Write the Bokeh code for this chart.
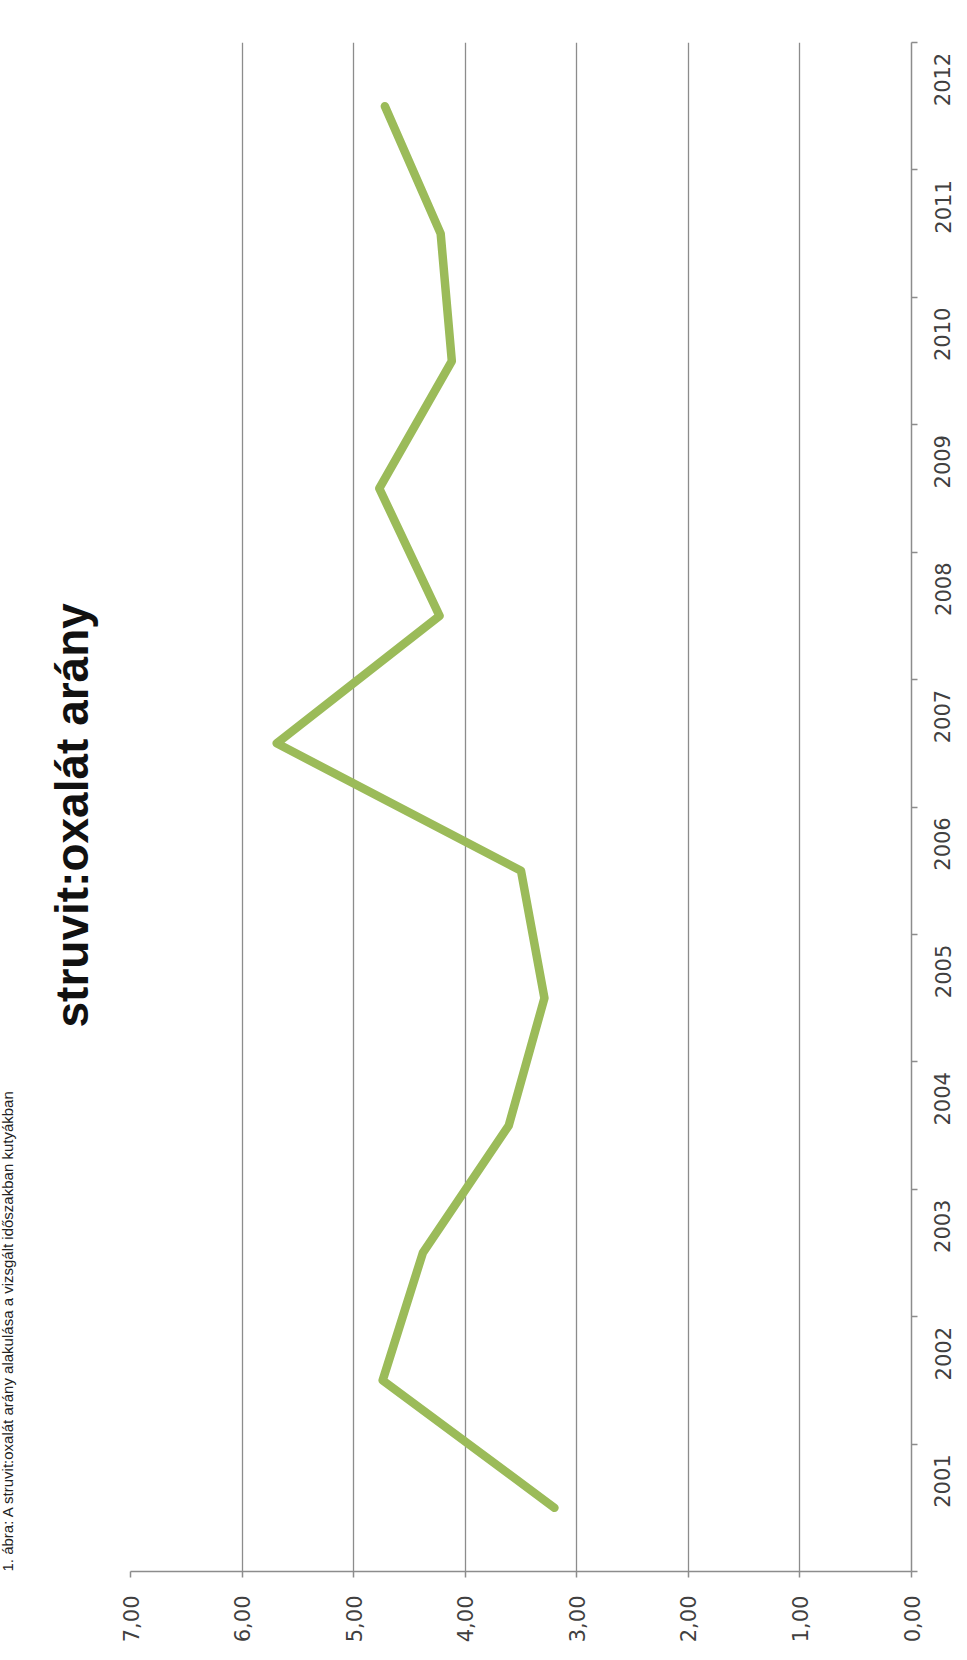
import math

from bokeh.embed import file_html
from bokeh.models import FixedTicker, Range1d, Title
from bokeh.plotting import figure
from bokeh.resources import INLINE

# struvit:oxalát arány évenként
years = [2001, 2002, 2003, 2004, 2005, 2006, 2007, 2008, 2009, 2010, 2011, 2012]
ratio = [3.20, 4.74, 4.38, 3.61, 3.29, 3.50, 5.69, 4.23, 4.77, 4.12, 4.22, 4.72]

value_ticks = [0, 1, 2, 3, 4, 5, 6, 7]
value_labels = ["0,00", "1,00", "2,00", "3,00", "4,00", "5,00", "6,00", "7,00"]
year_labels = [str(y) for y in years]

title_text = "struvit:oxalát arány"
caption_text = "1. ábra: A struvit:oxalát arány alakulása a vizsgált időszakban kutyákban"

GRID = "#8c8c8c"
TEXT = "#404040"
GREEN = "#9bbb59"

p = figure(
    width=967,
    height=1660,
    x_range=Range1d(7, 0),
    y_range=Range1d(years[0] - 0.5, years[-1] + 0.5),
    y_axis_location="right",
    output_backend="svg",
    toolbar_location=None,
    min_border_left=129,
    min_border_right=56,
    min_border_top=42,
    min_border_bottom=89,
)
p.outline_line_color = None
p.background_fill_color = "white"
p.border_fill_color = "white"

# value axis (drawn horizontally, 7 on the left down to 0 on the right)
xa = p.xaxis[0]
xa.ticker = FixedTicker(ticks=value_ticks, minor_ticks=[])
xa.major_label_overrides = {t: lab for t, lab in zip(value_ticks, value_labels)}
xa.major_label_orientation = math.pi / 2
xa.major_label_text_font = "DejaVu Sans"
xa.major_label_text_font_size = "21px"
xa.major_label_text_color = TEXT
xa.major_label_standoff = 18
xa.axis_line_color = GRID
xa.axis_line_width = 1.5
xa.major_tick_line_color = GRID
xa.major_tick_line_width = 1.5
xa.major_tick_in = 0
xa.major_tick_out = 6
xa.minor_tick_line_color = None

# year axis on the right, ticks between categories
ya = p.yaxis[0]
ya.ticker = FixedTicker(ticks=years, minor_ticks=[y - 0.5 for y in years] + [years[-1] + 0.5])
ya.major_label_overrides = {y: lab for y, lab in zip(years, year_labels)}
ya.major_label_orientation = math.pi / 2
ya.major_label_text_font = "DejaVu Sans"
ya.major_label_text_font_size = "21px"
ya.major_label_text_color = TEXT
ya.major_label_standoff = 25
ya.axis_line_color = GRID
ya.axis_line_width = 1.5
ya.major_tick_line_color = None
ya.major_tick_in = 0
ya.major_tick_out = 0
ya.minor_tick_line_color = GRID
ya.minor_tick_line_width = 1.5
ya.minor_tick_in = 0
ya.minor_tick_out = 6

p.xgrid.ticker = FixedTicker(ticks=value_ticks)
p.xgrid.grid_line_color = GRID
p.xgrid.grid_line_width = 1.3
p.ygrid.grid_line_color = None

p.line(ratio, years, line_color=GREEN, line_width=8.5,
       line_cap="round", line_join="round")

# chart title in the left panel, reading upwards
p.add_layout(Title(
    text=title_text, align="left", offset=544, standoff=64.5,
    text_font="Liberation Sans", text_font_style="bold",
    text_font_size="46px", text_color="#111111",
), "left")

# figure caption squeezed against the outer left edge
p.add_layout(Title(
    text=caption_text, align="left", offset=0, standoff=-8,
    text_font="Liberation Sans", text_font_style="normal",
    text_font_size="15px", text_color="#222222",
), "left")

open("out.html", "w").write(file_html(p, INLINE))
